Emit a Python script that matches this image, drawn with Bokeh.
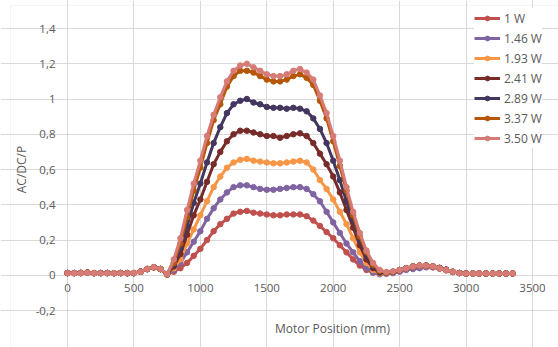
from bokeh.plotting import figure
from bokeh.models import FixedTicker, Label, Legend, LegendItem, ColumnDataSource, BoxAnnotation
from bokeh.embed import file_html
from bokeh.resources import INLINE

# Motor position samples (mm)
positions = list(range(0, 3400, 50))

s_1_00 = [0.012, 0.012, 0.013, 0.015, 0.012, 0.012, 0.013, 0.012, 0.012, 0.011, 0.012, 0.02, 0.035, 0.045, 0.035, 0.005,
          0.02, 0.04, 0.07, 0.11, 0.15, 0.20, 0.25, 0.29, 0.32, 0.35, 0.36, 0.365, 0.355, 0.35, 0.345, 0.34,
          0.34, 0.345, 0.345, 0.345, 0.335, 0.31, 0.28, 0.245, 0.21, 0.17, 0.13, 0.09, 0.055, 0.03, 0.015, 0.01,
          0.012, 0.018, 0.025, 0.035, 0.045, 0.05, 0.05, 0.045, 0.038, 0.028, 0.018, 0.012, 0.01, 0.01, 0.01, 0.01,
          0.01, 0.01, 0.01, 0.01]
s_1_46 = [0.012, 0.013, 0.012, 0.014, 0.012, 0.012, 0.012, 0.013, 0.012, 0.011, 0.012, 0.02, 0.034, 0.044, 0.034, 0.004,
          0.03, 0.07, 0.13, 0.19, 0.25, 0.32, 0.38, 0.43, 0.47, 0.50, 0.51, 0.51, 0.50, 0.49, 0.485, 0.485,
          0.49, 0.495, 0.50, 0.50, 0.49, 0.46, 0.42, 0.36, 0.30, 0.24, 0.18, 0.13, 0.08, 0.04, 0.015, 0.005,
          0.008, 0.012, 0.02, 0.03, 0.035, 0.04, 0.045, 0.045, 0.038, 0.028, 0.018, 0.012, 0.01, 0.01, 0.01, 0.01,
          0.01, 0.01, 0.01, 0.01]
s_1_93 = [0.012, 0.012, 0.012, 0.015, 0.013, 0.012, 0.012, 0.012, 0.013, 0.012, 0.012, 0.02, 0.035, 0.045, 0.035, 0.005,
          0.04, 0.09, 0.18, 0.26, 0.34, 0.42, 0.50, 0.56, 0.61, 0.64, 0.655, 0.66, 0.65, 0.645, 0.64, 0.635,
          0.635, 0.64, 0.645, 0.65, 0.64, 0.60, 0.54, 0.49, 0.43, 0.36, 0.29, 0.21, 0.13, 0.07, 0.03, 0.01,
          0.012, 0.018, 0.028, 0.038, 0.048, 0.052, 0.052, 0.048, 0.04, 0.03, 0.02, 0.012, 0.01, 0.01, 0.01, 0.01,
          0.01, 0.01, 0.01, 0.01]
s_2_41 = [0.013, 0.012, 0.014, 0.016, 0.012, 0.013, 0.012, 0.012, 0.012, 0.012, 0.013, 0.021, 0.036, 0.046, 0.036, 0.005,
          0.05, 0.12, 0.23, 0.34, 0.43, 0.53, 0.63, 0.70, 0.76, 0.80, 0.82, 0.82, 0.81, 0.80, 0.79, 0.79,
          0.78, 0.79, 0.80, 0.805, 0.79, 0.75, 0.69, 0.63, 0.56, 0.47, 0.37, 0.27, 0.17, 0.09, 0.04, 0.015,
          0.014, 0.02, 0.03, 0.04, 0.05, 0.055, 0.055, 0.05, 0.042, 0.032, 0.02, 0.013, 0.01, 0.01, 0.01, 0.01,
          0.01, 0.01, 0.01, 0.01]
s_2_89 = [0.012, 0.013, 0.013, 0.015, 0.012, 0.012, 0.013, 0.012, 0.013, 0.012, 0.012, 0.02, 0.035, 0.046, 0.036, 0.005,
          0.06, 0.15, 0.28, 0.41, 0.52, 0.64, 0.75, 0.84, 0.92, 0.97, 0.99, 1.00, 0.98, 0.97, 0.955, 0.95,
          0.95, 0.945, 0.95, 0.945, 0.93, 0.89, 0.83, 0.75, 0.65, 0.54, 0.42, 0.31, 0.20, 0.11, 0.05, 0.02,
          0.015, 0.02, 0.03, 0.04, 0.05, 0.055, 0.056, 0.05, 0.042, 0.032, 0.02, 0.013, 0.01, 0.01, 0.01, 0.01,
          0.01, 0.01, 0.01, 0.01]
s_3_37 = [0.012, 0.012, 0.013, 0.015, 0.012, 0.012, 0.012, 0.012, 0.012, 0.012, 0.012, 0.02, 0.035, 0.045, 0.035, 0.005,
          0.07, 0.18, 0.33, 0.48, 0.61, 0.75, 0.88, 0.97, 1.07, 1.13, 1.16, 1.16, 1.15, 1.13, 1.11, 1.10,
          1.10, 1.11, 1.13, 1.14, 1.12, 1.08, 0.99, 0.89, 0.76, 0.62, 0.48, 0.34, 0.22, 0.13, 0.06, 0.025,
          0.015, 0.02, 0.03, 0.04, 0.05, 0.055, 0.055, 0.05, 0.04, 0.03, 0.02, 0.012, 0.01, 0.01, 0.01, 0.01,
          0.01, 0.01, 0.01, 0.01]
s_3_50 = [0.012, 0.012, 0.012, 0.014, 0.012, 0.012, 0.012, 0.012, 0.012, 0.012, 0.012, 0.02, 0.036, 0.046, 0.036, 0.006,
          0.09, 0.21, 0.37, 0.52, 0.65, 0.79, 0.91, 1.01, 1.10, 1.16, 1.19, 1.20, 1.18, 1.16, 1.14, 1.13,
          1.13, 1.14, 1.16, 1.17, 1.15, 1.11, 1.02, 0.92, 0.79, 0.65, 0.50, 0.36, 0.24, 0.14, 0.07, 0.03,
          0.018, 0.022, 0.03, 0.04, 0.05, 0.055, 0.055, 0.05, 0.04, 0.03, 0.02, 0.012, 0.01, 0.01, 0.01, 0.01,
          0.01, 0.01, 0.01, 0.01]

series_values = [s_1_00, s_1_46, s_1_93, s_2_41, s_2_89, s_3_37, s_3_50]
series_labels = ["1 W", "1.46 W", "1.93 W", "2.41 W", "2.89 W", "3.37 W", "3.50 W"]
series_colors = ["#C0504D", "#8064A2", "#F79646", "#772C2A", "#43365F", "#B65708", "#D67B76"]

x_ticks = [0, 500, 1000, 1500, 2000, 2500, 3000, 3500]
y_ticks = [-0.2, 0, 0.2, 0.4, 0.6, 0.8, 1, 1.2, 1.4]
y_tick_labels = ["-0,2", "0", "0,2", "0,4", "0,6", "0,8", "1", "1,2", "1,4"]

x_title = "Motor Position (mm)"
y_title = "AC/DC/P"

FONT = "Open Sans"
TXT = "#595959"
GRID = "#d9d9d9"

# ---- layout: the frame fills the whole canvas; plot area = 0..3500 x -0.2..1.4
W, H = 558, 347
PA_LEFT, PA_RIGHT, PA_TOP, PA_BOTTOM = 67, 532, 28, 310   # plot area in px
XMIN, XMAX = x_ticks[0], x_ticks[-1]
YMIN, YMAX = y_ticks[0], y_ticks[-1]
xpp = (XMAX - XMIN) / (PA_RIGHT - PA_LEFT)
ypp = (YMAX - YMIN) / (PA_BOTTOM - PA_TOP)
x_range = (XMIN - PA_LEFT * xpp, XMAX + (W - PA_RIGHT) * xpp)
y_range = (YMIN - (H - PA_BOTTOM) * ypp, YMAX + PA_TOP * ypp)

def px_x(px):
    return x_range[0] + px * xpp

def px_y(py):
    return y_range[1] - py * ypp

p = figure(width=W, height=H, output_backend="svg", toolbar_location=None,
           title=None, x_range=x_range, y_range=y_range, min_border=0)
p.background_fill_color = "white"
p.border_fill_color = "white"
p.outline_line_color = None

# chart-area border (left and top edges visible)
p.add_layout(BoxAnnotation(left=px_x(10), top=px_y(5), right=px_x(W + 20), bottom=px_y(H + 20),
                           fill_alpha=0, line_color=GRID, line_width=1))

items = []
for vals, lab, col in zip(series_values, series_labels, series_colors):
    src = ColumnDataSource(dict(x=positions, y=vals))
    r1 = p.line("x", "y", source=src, line_color=col, line_width=3)
    r2 = p.scatter("x", "y", source=src, marker="circle", size=5.5, fill_color=col, line_color=col)
    items.append(LegendItem(label=lab, renderers=[r1, r2]))

# axes (placed inside the frame)
p.xaxis.ticker = FixedTicker(ticks=x_ticks)
p.xaxis.fixed_location = 0
p.xaxis.bounds = (XMIN, XMAX)
p.xaxis.axis_line_color = None
p.xaxis.major_tick_line_color = None
p.xaxis.minor_tick_line_color = None
p.xaxis.major_tick_out = 0
p.xaxis.major_label_standoff = 9
p.xaxis.major_label_text_font = FONT
p.xaxis.major_label_text_font_size = "11.5px"
p.xaxis.major_label_text_color = TXT

p.yaxis.ticker = FixedTicker(ticks=y_ticks)
p.yaxis.fixed_location = 0
p.yaxis.bounds = (YMIN, YMAX)
p.yaxis.major_label_overrides = dict(zip(y_ticks, y_tick_labels))
p.yaxis.axis_line_color = None
p.yaxis.major_tick_line_color = None
p.yaxis.minor_tick_line_color = None
p.yaxis.major_tick_out = 0
p.yaxis.major_label_standoff = 12
p.yaxis.major_label_text_font = FONT
p.yaxis.major_label_text_font_size = "11.5px"
p.yaxis.major_label_text_color = TXT
p.yaxis.axis_label = y_title
p.yaxis.axis_label_text_font = FONT
p.yaxis.axis_label_text_font_size = "12px"
p.yaxis.axis_label_text_font_style = "normal"
p.yaxis.axis_label_text_color = TXT
p.yaxis.axis_label_standoff = 3

p.xgrid.ticker = FixedTicker(ticks=x_ticks)
p.ygrid.ticker = FixedTicker(ticks=y_ticks)
p.xgrid.bounds = (YMIN, YMAX)
p.ygrid.bounds = (XMIN, XMAX)
p.xgrid.grid_line_color = GRID
p.ygrid.grid_line_color = GRID

p.add_layout(Label(x=px_x(332), y=px_y(328), text=x_title, text_align="center",
                   text_baseline="middle", text_font=FONT, text_font_size="12px",
                   text_color=TXT))

legend = Legend(items=items, location=(474, H - 148), padding=15, spacing=0, margin=0,
                glyph_width=26, glyph_height=12, label_height=20, label_standoff=4,
                label_text_font=FONT, label_text_font_size="12px", label_text_color=TXT,
                border_line_color=None, background_fill_color="white", background_fill_alpha=1.0)
p.add_layout(legend, "center")

open("out.html", "w").write(file_html(p, INLINE))
